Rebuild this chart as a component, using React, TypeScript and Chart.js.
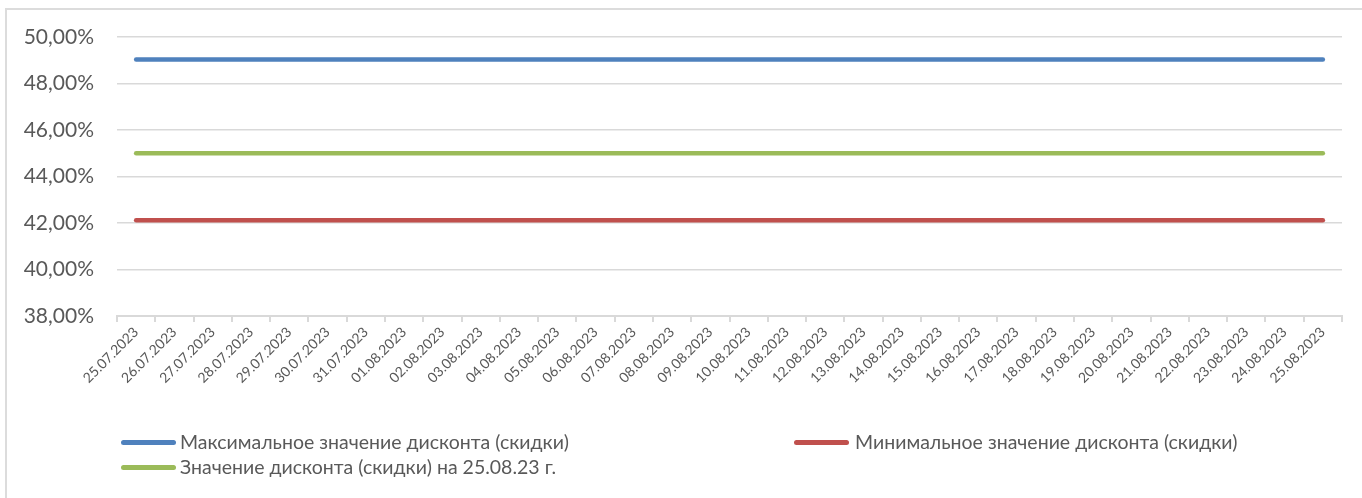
import React, { useEffect, useRef } from "react";
import { Chart, registerables } from "chart.js";

Chart.register(...registerables);

const dates = [
  "25.07.2023", "26.07.2023", "27.07.2023", "28.07.2023", "29.07.2023", "30.07.2023",
  "31.07.2023", "01.08.2023", "02.08.2023", "03.08.2023", "04.08.2023", "05.08.2023",
  "06.08.2023", "07.08.2023", "08.08.2023", "09.08.2023", "10.08.2023", "11.08.2023",
  "12.08.2023", "13.08.2023", "14.08.2023", "15.08.2023", "16.08.2023", "17.08.2023",
  "18.08.2023", "19.08.2023", "20.08.2023", "21.08.2023", "22.08.2023", "23.08.2023",
  "24.08.2023", "25.08.2023",
];

const maxDiscount = [
  49.03, 49.03, 49.03, 49.03, 49.03, 49.03, 49.03, 49.03, 49.03, 49.03, 49.03,
  49.03, 49.03, 49.03, 49.03, 49.03, 49.03, 49.03, 49.03, 49.03, 49.03, 49.03,
  49.03, 49.03, 49.03, 49.03, 49.03, 49.03, 49.03, 49.03, 49.03, 49.03,
];

const minDiscount = [
  42.12, 42.12, 42.12, 42.12, 42.12, 42.12, 42.12, 42.12, 42.12, 42.12, 42.12,
  42.12, 42.12, 42.12, 42.12, 42.12, 42.12, 42.12, 42.12, 42.12, 42.12, 42.12,
  42.12, 42.12, 42.12, 42.12, 42.12, 42.12, 42.12, 42.12, 42.12, 42.12,
];

const currentDiscount = [
  45.0, 45.0, 45.0, 45.0, 45.0, 45.0, 45.0, 45.0, 45.0, 45.0, 45.0,
  45.0, 45.0, 45.0, 45.0, 45.0, 45.0, 45.0, 45.0, 45.0, 45.0, 45.0,
  45.0, 45.0, 45.0, 45.0, 45.0, 45.0, 45.0, 45.0, 45.0, 45.0,
];

const seriesNames = [
  "Максимальное значение дисконта (скидки)",
  "Минимальное значение дисконта (скидки)",
  "Значение дисконта (скидки) на 25.08.23 г.",
];
const seriesColors = ["#4F81BD", "#C0504D", "#9BBB59"];

const yMin = 38;
const yMax = 50;
const yStep = 2;

const FONT = "Lato, 'Open Sans', 'Noto Sans', sans-serif";
const TEXT = "#595959";
const GRID = "#d9d9d9";

export default function App() {
  const ref = useRef<HTMLCanvasElement>(null);

  useEffect(() => {
    const chart = new Chart(ref.current!, {
      type: "line",
      data: {
        labels: dates,
        datasets: [
          { label: seriesNames[0], data: maxDiscount, borderColor: seriesColors[0], backgroundColor: seriesColors[0] },
          { label: seriesNames[1], data: minDiscount, borderColor: seriesColors[1], backgroundColor: seriesColors[1] },
          { label: seriesNames[2], data: currentDiscount, borderColor: seriesColors[2], backgroundColor: seriesColors[2] },
        ].map((d) => ({
          ...d,
          borderWidth: 4.5,
          pointRadius: 0,
          borderCapStyle: "round" as const,
          tension: 0,
        })),
      },
      options: {
        animation: false,
        responsive: false,
        layout: { padding: { left: 0, right: 20, top: 37, bottom: 102 } },
        plugins: { legend: { display: false }, tooltip: { enabled: false } },
        scales: {
          x: {
            offset: true,
            grid: {
              display: true,
              drawOnChartArea: false,
              drawTicks: true,
              tickLength: 6,
              color: GRID,
              lineWidth: 2,
              offset: true,
            },
            border: { display: true, color: GRID, width: 2 },
            ticks: {
              autoSkip: false,
              maxRotation: 45,
              minRotation: 45,
              padding: 2,
              color: TEXT,
              font: { family: FONT, size: 14 },
            },
            afterFit: (s: any) => {
              s.height = 80;
            },
          },
          y: {
            min: yMin,
            max: yMax,
            grid: { color: GRID, drawTicks: false, lineWidth: 1.5 },
            border: { display: false },
            ticks: {
              stepSize: yStep,
              padding: 23,
              color: TEXT,
              font: { family: FONT, size: 21 },
              callback: (v: any) => Number(v).toFixed(2).replace(".", ",") + "%",
            },
            afterFit: (s: any) => {
              s.width = 117;
            },
          },
        },
      },
    });
    return () => chart.destroy();
  }, []);

  const legendItems = [
    { i: 0, lineX: 121, textX: 180, y: 442 },
    { i: 1, lineX: 794, textX: 855, y: 442 },
    { i: 2, lineX: 121, textX: 180, y: 467 },
  ];

  return (
    <div
      style={{
        position: "fixed",
        left: 0,
        top: 0,
        width: 1362,
        height: 498,
        background: "#fff",
        overflow: "hidden",
      }}
    >
      <div
        style={{
          position: "absolute",
          left: 5,
          top: 8,
          width: 1400,
          height: 520,
          borderLeft: "2px solid #dcdcdc",
          borderTop: "2px solid #dcdcdc",
        }}
      />
      <canvas
        ref={ref}
        width={1362}
        height={498}
        style={{ position: "absolute", left: 0, top: 0, width: 1362, height: 498 }}
      />
      {legendItems.map((it) => (
        <React.Fragment key={it.i}>
          <div
            style={{
              position: "absolute",
              left: it.lineX,
              top: it.y - 2.5,
              width: 55,
              height: 5,
              borderRadius: 3,
              background: seriesColors[it.i],
            }}
          />
          <div
            style={{
              position: "absolute",
              left: it.textX,
              top: it.y - 13,
              height: 26,
              lineHeight: "26px",
              fontFamily: FONT,
              fontSize: 19.5,
              color: TEXT,
              whiteSpace: "nowrap",
            }}
          >
            {seriesNames[it.i]}
          </div>
        </React.Fragment>
      ))}
    </div>
  );
}
